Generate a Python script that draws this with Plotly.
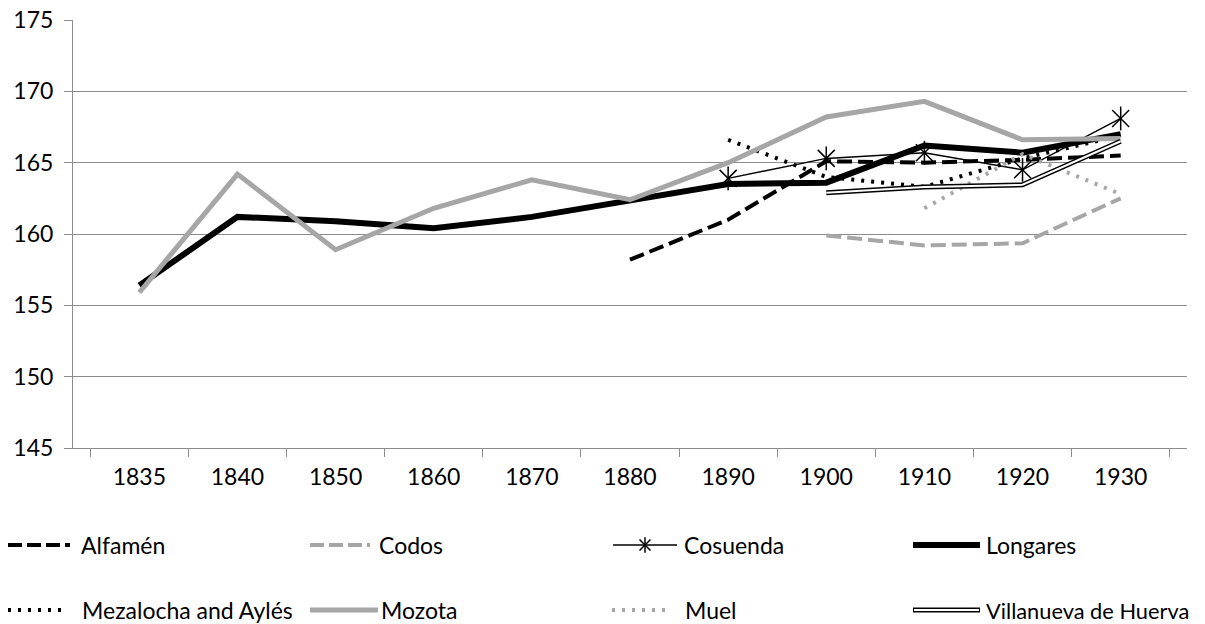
import plotly.graph_objects as go

years = ["1835", "1840", "1850", "1860", "1870", "1880", "1890", "1900", "1910", "1920", "1930"]
N = None
alfamen = [N, N, N, N, N, 158.2, 161.0, 165.1, 165.0, 165.2, 165.5]
codos = [N, N, N, N, N, N, N, 159.9, 159.2, 159.35, 162.5]
cosuenda = [N, N, N, N, N, N, 163.9, 165.3, 165.7, 164.5, 168.1]
longares = [156.4, 161.2, 160.9, 160.4, 161.2, 162.4, 163.5, 163.6, 166.2, 165.7, 167.0]
mezalocha = [N, N, N, N, N, N, 166.6, 164.0, 163.3, 165.3, 166.9]
mozota = [155.9, 164.2, 158.9, 161.8, 163.8, 162.4, 165.0, 168.2, 169.3, 166.6, 166.7]
muel = [N, N, N, N, N, N, N, N, 161.8, 165.6, 162.8]
villanueva = [N, N, N, N, N, N, N, 162.9, 163.3, 163.45, 166.5]

GRAY = "#A6A6A6"
BLACK = "#000000"
AXIS = "#8C8C8C"
FONT = "Lato, Carlito, 'Liberation Sans', sans-serif"
FS = 23
W, H = 1205, 624
OFF = 0  # page body margin removed below

fig = go.Figure()

def line_trace(y, color, width, dash="solid", name=""):
    fig.add_trace(go.Scatter(x=years, y=y, mode="lines", name=name,
                             line=dict(color=color, width=width, dash=dash),
                             connectgaps=False, showlegend=False, hoverinfo="skip"))

line_trace(alfamen, BLACK, 4, "15px,6px", "Alfamén")
line_trace(codos, GRAY, 4, "15px,6px", "Codos")
fig.add_trace(go.Scatter(x=years, y=cosuenda, mode="lines+markers", name="Cosuenda",
                         line=dict(color=BLACK, width=1.5),
                         marker=dict(symbol="x-thin-open", size=17, color=BLACK,
                                     line=dict(color=BLACK, width=1.5)),
                         showlegend=False, hoverinfo="skip"))
fig.add_trace(go.Scatter(x=years, y=cosuenda, mode="markers", name="Cosuenda",
                         marker=dict(symbol="line-ns-open", size=17, color=BLACK,
                                     line=dict(color=BLACK, width=1.5)),
                         showlegend=False, hoverinfo="skip"))
line_trace(longares, BLACK, 6, "solid", "Longares")
line_trace(mezalocha, BLACK, 4, "3px,7px", "Mezalocha and Aylés")
line_trace(mozota, GRAY, 5, "solid", "Mozota")
line_trace(muel, GRAY, 4, "3px,7px", "Muel")
line_trace(villanueva, BLACK, 5, "solid", "Villanueva de Huerva")
line_trace(villanueva, "#FFFFFF", 2, "solid", "Villanueva de Huerva")

# Legend drawn on an invisible overlay axis measured in picture pixels
legend_items = [
    ("Alfamén", dict(color=BLACK, width=4, dash="14px,5px"), None, 8, 70, 79, 545, FS),
    ("Codos", dict(color=GRAY, width=4, dash="14px,5px"), None, 310, 370, 377, 545, FS),
    ("Cosuenda", dict(color=BLACK, width=1.5), "ast", 613, 677, 682, 545, FS),
    ("Longares", dict(color=BLACK, width=6), None, 913, 980, 984, 545, FS),
    ("Mezalocha and Aylés", dict(color=BLACK, width=4, dash="3px,7px"), None, 8, 68, 80, 610, FS),
    ("Mozota", dict(color=GRAY, width=5), None, 310, 378, 379, 610, FS),
    ("Muel", dict(color=GRAY, width=4, dash="3px,7px"), None, 612, 672, 683, 610, FS),
    ("Villanueva de Huerva", dict(color=BLACK, width=5), "double", 913, 980, 984, 610, 21.8),
]
for name, ln, extra, x0, x1, xt, yc, fs in legend_items:
    fig.add_trace(go.Scatter(x=[x0, x1], y=[yc, yc], mode="lines", line=ln,
                             xaxis="x2", yaxis="y2", showlegend=False, hoverinfo="skip",
                             cliponaxis=False))
    if extra == "double":
        fig.add_trace(go.Scatter(x=[x0 + 1, x1 - 1], y=[yc, yc], mode="lines",
                                 line=dict(color="#FFFFFF", width=2),
                                 xaxis="x2", yaxis="y2", showlegend=False, hoverinfo="skip",
                                 cliponaxis=False))
    if extra == "ast":
        xm = (x0 + x1) / 2
        for sym in ["x-thin-open", "line-ns-open"]:
            fig.add_trace(go.Scatter(x=[xm], y=[yc], mode="markers",
                                     marker=dict(symbol=sym, size=11, color=BLACK,
                                                 line=dict(color=BLACK, width=1.5)),
                                     xaxis="x2", yaxis="y2", showlegend=False, hoverinfo="skip",
                                     cliponaxis=False))
    fig.add_annotation(x=xt, y=yc, xref="x2", yref="y2", text=name, showarrow=False,
                       xanchor="left", yanchor="middle",
                       font=dict(family=FONT, size=fs, color="#000000"))

fig.update_layout(
    width=W, height=H,
    margin=dict(l=0, r=0, t=0, b=0, autoexpand=False),
    paper_bgcolor="white", plot_bgcolor="rgba(0,0,0,0)",
    font=dict(family=FONT, size=FS, color="#000000"),
    showlegend=False,
    xaxis=dict(domain=[(73 - OFF) / W, (1187 - OFF) / W], type="category",
               categoryorder="array", categoryarray=years,
               showgrid=False, showline=True, linecolor=AXIS, linewidth=1,
               ticks="outside", ticklen=8, tickcolor=AXIS, tickson="boundaries",
               tickfont=dict(size=FS), ticklabelstandoff=8, ticklabeloverflow="allow",
               zeroline=False, fixedrange=True, anchor="y", automargin=False),
    yaxis=dict(domain=[1 - (448 - OFF) / H, 1 - (20 - OFF) / H], range=[145, 175],
               tickmode="array", tickvals=[145, 150, 155, 160, 165, 170, 175],
               showgrid=True, gridcolor=AXIS, gridwidth=1,
               showline=True, linecolor=AXIS, linewidth=1,
               ticks="outside", ticklen=8, tickcolor=AXIS,
               tickfont=dict(size=FS), ticklabelstandoff=6, ticklabeloverflow="allow",
               zeroline=False, fixedrange=True, anchor="x", automargin=False),
    xaxis2=dict(domain=[0, 1], range=[OFF, W + OFF], visible=False, fixedrange=True,
                anchor="y2", automargin=False),
    yaxis2=dict(domain=[0, 1], range=[H + OFF, OFF], visible=False, fixedrange=True,
                anchor="x2", automargin=False),
)

fig.write_html("out.html", config={"displayModeBar": False},
               post_script="document.body.style.margin='0';document.body.style.overflow='hidden';")
